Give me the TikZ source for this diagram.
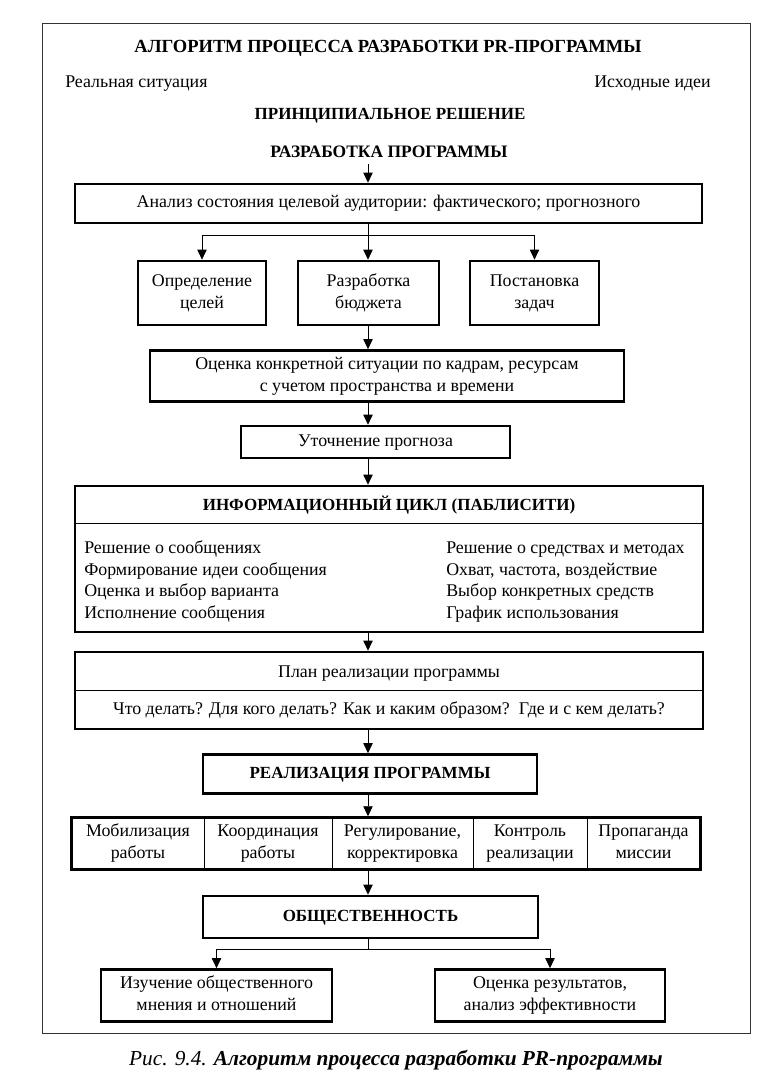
\documentclass[tikz,border=0pt]{standalone}
\usepackage{fontspec}
\setmainfont{Liberation Serif}
\usetikzlibrary{arrows.meta,fit}
\newcommand\txtsz{\fontsize{13.4}{16.3}\selectfont}
\newcommand\bsz{\fontsize{12.75}{16.3}\selectfont\bfseries}
\newcommand\capsz{\fontsize{16}{18}\selectfont}
\newcommand\pxw[1]{#1*0.75pt}
\newcommand\twol[2]{\strut #1\\#2\strut}
\begin{document}
\begin{tikzpicture}[x=0.75pt,y=-0.75pt,
  st/.style={execute at begin node=\strut, execute at end node=\strut},
  box/.style={draw, line width=2pt, inner sep=0pt, align=center, font=\txtsz},
  cell/.style={draw, line width=0.6pt, inner sep=0pt, align=center, font=\txtsz, minimum height=\pxw{51}},
  plain/.style={inner sep=0pt, font=\txtsz, st},
  bold/.style={inner sep=0pt, font=\bsz, st},
  arr/.style={-{Triangle[width=7pt,length=7.5pt]}, line width=0.6pt},
  sep/.style={line width=0.6pt}]
\useasboundingbox (0,0) rectangle (780,1090);
\fill[white] (0,0) rectangle (780,1090);
% frame
\node[draw=black!80, line width=0.7pt, inner sep=0pt, fit={(42,23)(750,1033)}] (frame) {};
\coordinate (ax) at (368,0);
% header
\node[bold, font=\fontsize{13.9}{16.3}\selectfont\bfseries] (title) at (388,48) {АЛГОРИТМ ПРОЦЕССА РАЗРАБОТКИ PR-ПРОГРАММЫ};
\node[plain, anchor=west] (real) at (65,83) {Реальная ситуация};
\node[plain, anchor=east] (ideas) at (711,83) {Исходные идеи};
\node[bold] (princ) at (390,115) {ПРИНЦИПИАЛЬНОЕ РЕШЕНИЕ};
\node[bold, font=\fontsize{13.1}{16.3}\selectfont\bfseries] (razr) at (389,153) {РАЗРАБОТКА ПРОГРАММЫ};
% boxes
\node[box, st, minimum width=\pxw{627}, minimum height=\pxw{39}] (anal) at (388.5,203.5) {Анализ состояния целевой аудитории: фактического; прогнозного};
\node[box, minimum width=\pxw{128}, minimum height=\pxw{64}] (goal) at (202,293) {\twol{Определение}{целей}};
\node[box, minimum width=\pxw{141}, minimum height=\pxw{64}] (budg) at (368.5,293) {\twol{Разработка}{бюджета}};
\node[box, minimum width=\pxw{129}, minimum height=\pxw{64}] (task) at (534.5,293) {\twol{Постановка}{задач}};
\node[box, minimum width=\pxw{474}, minimum height=\pxw{51}] (eval) at (387,376) {\twol{Оценка конкретной ситуации по кадрам, ресурсам}{с учетом пространства и времени}};
\node[box, st, minimum width=\pxw{269}, minimum height=\pxw{32}] (prog) at (375.5,442) {Уточнение прогноза};
% info cycle
\node[draw, line width=2pt, inner sep=0pt, minimum width=\pxw{628}, minimum height=\pxw{146}] (info) at (389,559) {};
\draw[sep] (info.west |- 0,523) -- (info.east |- 0,523);
\node[bold] (infot) at (389,506) {ИНФОРМАЦИОННЫЙ ЦИКЛ (ПАБЛИСИТИ)};
\node[inner sep=0pt, font=\txtsz, anchor=north west, align=left] (infol) at (84,538)
  {\strut Решение о сообщениях\\Формирование идеи сообщения\\Оценка и выбор варианта\\Исполнение сообщения};
\node[inner sep=0pt, font=\txtsz, anchor=north west, align=left] (infor) at (446,538)
  {\strut Решение о средствах и методах\\Охват, частота, воздействие\\Выбор конкретных средств\\График использования};
% plan
\node[draw, line width=2pt, inner sep=0pt, minimum width=\pxw{628}, minimum height=\pxw{77}] (plan) at (389,690.5) {};
\draw[sep] (plan.west |- 0,690) -- (plan.east |- 0,690);
\node[plain] (plant) at (389,673) {План реализации программы};
\node[plain] (planq) at (389,710) {Что делать? Для кого делать? Как и каким образом?\ \ Где и с кем делать?};
% realization
\node[box, st, minimum width=\pxw{334}, minimum height=\pxw{39}, font=\bsz] (realz) at (370,774) {РЕАЛИЗАЦИЯ ПРОГРАММЫ};
\node[cell, minimum width=\pxw{132}] (c1) at (138,843.5) {\twol{Мобилизация}{работы}};
\node[cell, minimum width=\pxw{128}] (c2) at (268,843.5) {\twol{Координация}{работы}};
\node[cell, minimum width=\pxw{141}] (c3) at (402.5,843.5) {\twol{Регулирование,}{корректировка}};
\node[cell, minimum width=\pxw{114}] (c4) at (530,843.5) {\twol{Контроль}{реализации}};
\node[cell, minimum width=\pxw{113}] (c5) at (643.5,843.5) {\twol{Пропаганда}{миссии}};
\node[draw, line width=2pt, inner sep=0pt, fit=(c1)(c5)] (row) {};
\node[box, st, minimum width=\pxw{335}, minimum height=\pxw{42}, font=\bsz] (pub) at (370.5,917) {ОБЩЕСТВЕННОСТЬ};
\node[box, minimum width=\pxw{231}, minimum height=\pxw{52}] (study) at (216.5,995.5) {\twol{Изучение общественного}{мнения и отношений}};
\node[box, minimum width=\pxw{230}, minimum height=\pxw{52}] (resu) at (550,995.5) {\twol{Оценка результатов,}{анализ эффективности}};
% caption
\node[inner sep=0pt, font=\capsz] (cap) at (396,1060) {\textit{Рис. 9.4. }\textbf{\textit{Алгоритм процесса разработки PR-программы}}};
% connectors
\coordinate (br1) at (368,235);
\coordinate (br2) at (368,949);
\draw[arr] (razr.south -| ax) -- (anal.north -| ax);
\draw[arr] (anal.south -| ax) -- (budg.north -| ax);
\draw[arr] (br1) -| (goal.north);
\draw[arr] (br1) -| (task.north);
\draw[arr] (budg.south -| ax) -- (eval.north -| ax);
\draw[arr] (eval.south -| ax) -- (prog.north -| ax);
\draw[arr] (prog.south -| ax) -- (info.north -| ax);
\draw[arr] (info.south -| ax) -- (plan.north -| ax);
\draw[arr] (plan.south -| ax) -- (realz.north -| ax);
\draw[arr] (realz.south -| ax) -- (row.north -| ax);
\draw[arr] (row.south -| ax) -- (pub.north -| ax);
\draw[line width=0.6pt] (pub.south -| ax) -- (br2);
\draw[arr] (br2) -| (study.north);
\draw[arr] (br2) -| (resu.north);
\end{tikzpicture}
\end{document}
